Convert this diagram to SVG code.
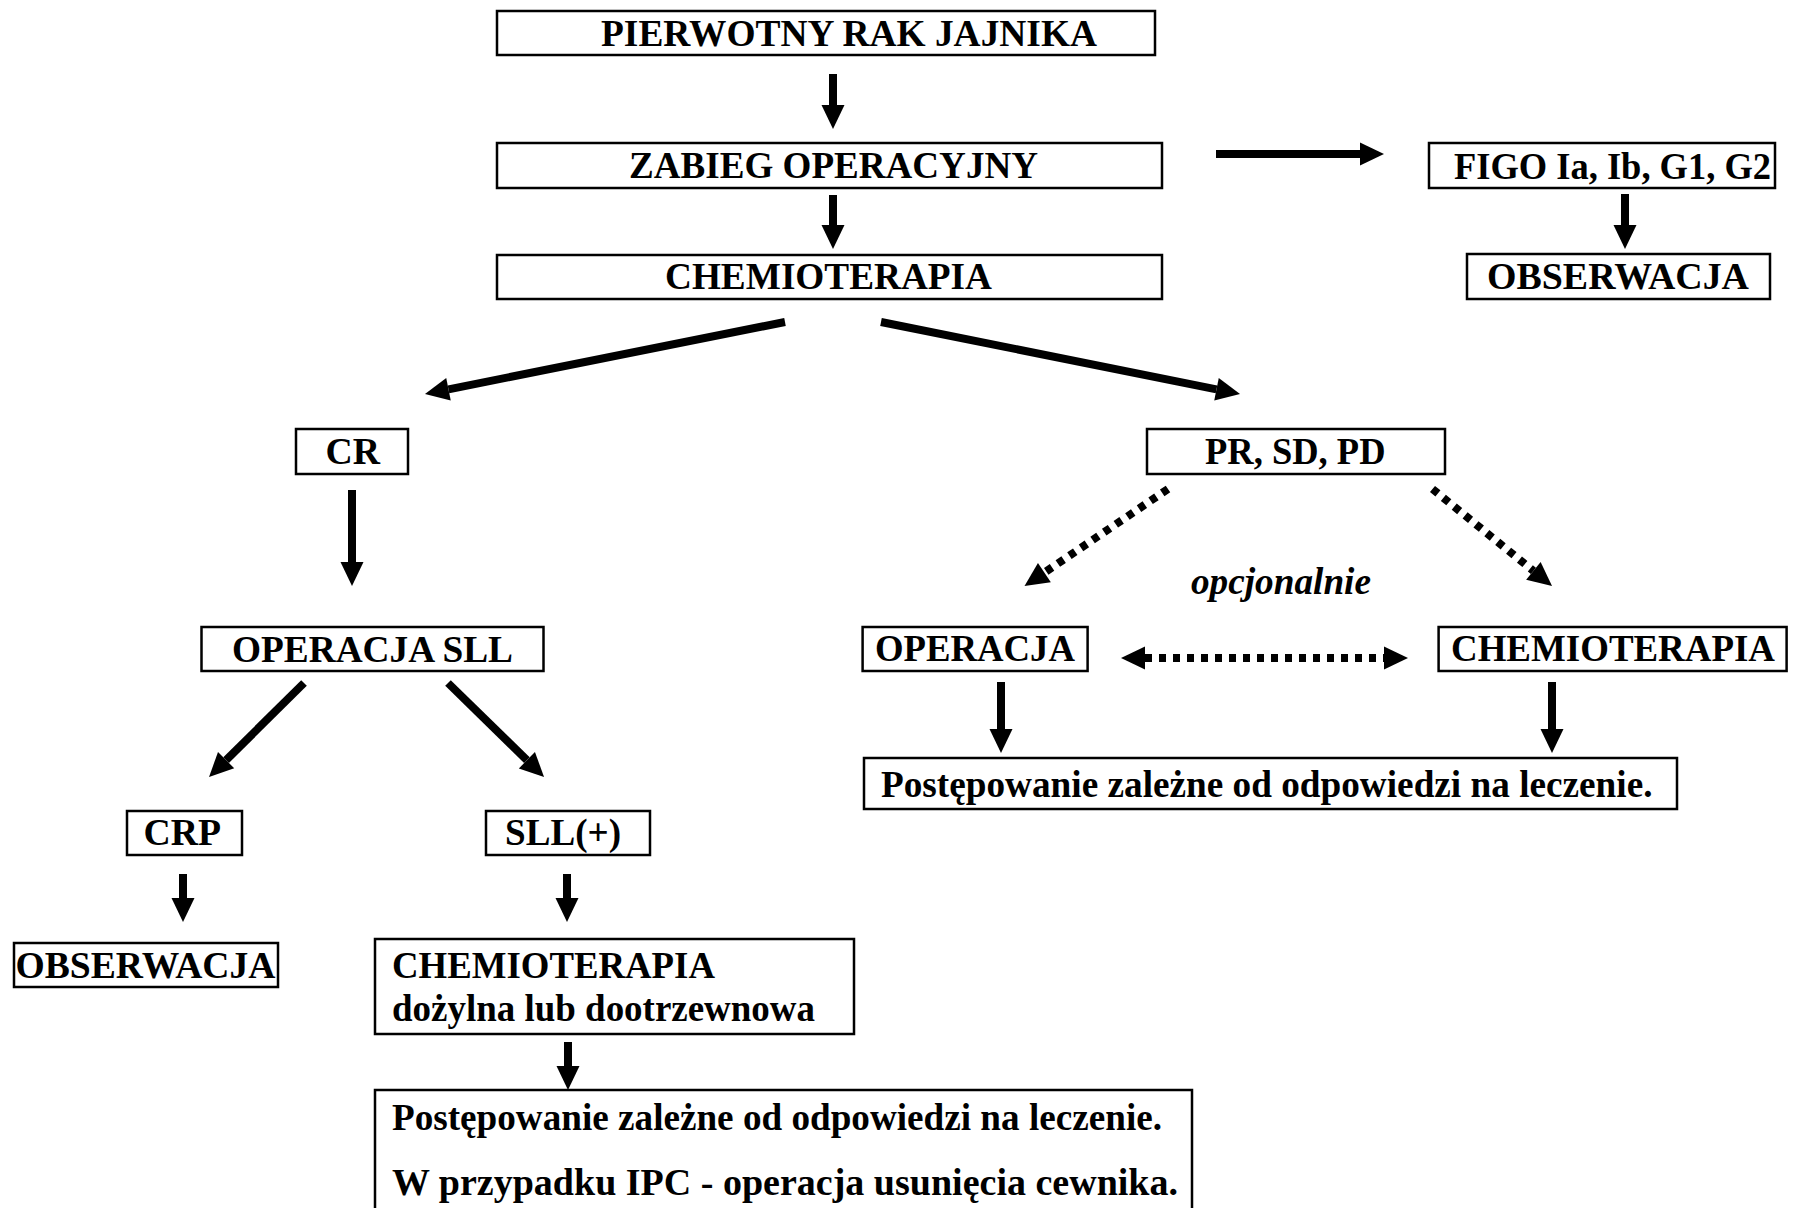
<svg xmlns="http://www.w3.org/2000/svg" width="1798" height="1208" viewBox="0 0 1798 1208">
<style>
  .box { fill: #fff; stroke: #000; stroke-width: 2.5; }
  .t { font-family: "Liberation Serif", "Times New Roman", serif; font-weight: bold; font-size: 37px; fill: #000; }
  .ti { font-family: "Liberation Serif", "Times New Roman", serif; font-weight: bold; font-style: italic; font-size: 37px; fill: #000; }
  .arr { stroke: #000; stroke-width: 8; fill: none; marker-end: url(#head); }
  .dot { stroke: #000; stroke-width: 8; fill: none; stroke-dasharray: 7 7; marker-end: url(#head); }
  .dot2 { stroke: #000; stroke-width: 8; fill: none; stroke-dasharray: 7 7; marker-end: url(#head); marker-start: url(#head); }
</style>
<defs>
  <marker id="head" markerUnits="userSpaceOnUse" markerWidth="24" markerHeight="24" refX="0" refY="11.5" orient="auto-start-reverse" overflow="visible">
    <path d="M0,0 L24,11.5 L0,23 Z" fill="#000"/>
  </marker>
</defs>

<g id="connectors">
  <line class="arr" x1="833" y1="74" x2="833" y2="105"/>
  <line class="arr" x1="833" y1="195" x2="833" y2="225"/>
  <line class="arr" x1="1216" y1="154" x2="1360" y2="154"/>
  <line class="arr" x1="1625" y1="194" x2="1625" y2="225"/>
  <line class="arr" x1="785" y1="322" x2="448.5" y2="389.3"/>
  <line class="arr" x1="881" y1="322" x2="1216.5" y2="389.3"/>
  <line class="arr" x1="352" y1="490" x2="352" y2="562"/>
  <line class="arr" x1="304" y1="683" x2="226.1" y2="760.1"/>
  <line class="arr" x1="448" y1="683" x2="526.9" y2="760.2"/>
  <line class="arr" x1="183" y1="874" x2="183" y2="898"/>
  <line class="arr" x1="567" y1="874" x2="567" y2="898"/>
  <line class="arr" x1="568" y1="1042" x2="568" y2="1066"/>
  <line class="dot" x1="1168" y1="489" x2="1044.4" y2="572.6"/>
  <line class="dot" x1="1432.5" y1="489" x2="1533.4" y2="570.9"/>
  <line class="dot2" x1="1145" y1="658" x2="1384" y2="658"/>
  <line class="arr" x1="1001" y1="682" x2="1001" y2="729"/>
  <line class="arr" x1="1552" y1="682" x2="1552" y2="729"/>
</g>

<g id="n-pierwotny">
  <rect class="box" x="497" y="11" width="658" height="44"/>
  <text class="t" x="601" y="46" textLength="496" lengthAdjust="spacingAndGlyphs">PIERWOTNY RAK JAJNIKA</text>
</g>
<g id="n-zabieg">
  <rect class="box" x="497" y="143" width="665" height="45"/>
  <text class="t" x="629" y="178" textLength="409" lengthAdjust="spacingAndGlyphs">ZABIEG OPERACYJNY</text>
</g>
<g id="n-chemio1">
  <rect class="box" x="497" y="255" width="665" height="44"/>
  <text class="t" x="665" y="289" textLength="327" lengthAdjust="spacingAndGlyphs">CHEMIOTERAPIA</text>
</g>
<g id="n-figo">
  <rect class="box" x="1429" y="143" width="346" height="45"/>
  <text class="t" x="1454" y="179" textLength="317" lengthAdjust="spacingAndGlyphs">FIGO Ia, Ib, G1, G2</text>
</g>
<g id="n-obs1">
  <rect class="box" x="1467" y="254" width="303" height="45"/>
  <text class="t" x="1487" y="289" textLength="262" lengthAdjust="spacingAndGlyphs">OBSERWACJA</text>
</g>
<g id="n-cr">
  <rect class="box" x="296" y="429" width="112" height="45"/>
  <text class="t" x="325.5" y="464" textLength="54.5" lengthAdjust="spacingAndGlyphs">CR</text>
</g>
<g id="n-pr">
  <rect class="box" x="1147" y="429" width="298" height="45"/>
  <text class="t" x="1205" y="464" textLength="180.5" lengthAdjust="spacingAndGlyphs">PR, SD, PD</text>
</g>
<g id="n-sll">
  <rect class="box" x="201.5" y="627" width="342" height="44"/>
  <text class="t" x="232" y="662" textLength="281" lengthAdjust="spacingAndGlyphs">OPERACJA SLL</text>
</g>
<g id="n-crp">
  <rect class="box" x="127" y="811" width="115" height="44"/>
  <text class="t" x="143.5" y="845" textLength="77.5" lengthAdjust="spacingAndGlyphs">CRP</text>
</g>
<g id="n-sllplus">
  <rect class="box" x="486" y="811" width="164" height="44"/>
  <text class="t" x="505" y="845" textLength="116" lengthAdjust="spacingAndGlyphs">SLL(+)</text>
</g>
<g id="n-obs2">
  <rect class="box" x="14" y="943" width="264" height="44"/>
  <text class="t" x="15.5" y="978" textLength="260" lengthAdjust="spacingAndGlyphs">OBSERWACJA</text>
</g>
<g id="n-chemio2">
  <rect class="box" x="375" y="939" width="479" height="95"/>
  <text class="t" x="392" y="978" textLength="323" lengthAdjust="spacingAndGlyphs">CHEMIOTERAPIA</text>
  <text class="t" x="392" y="1021" textLength="423" lengthAdjust="spacingAndGlyphs">dożylna lub dootrzewnowa</text>
</g>
<g id="n-post2">
  <rect class="box" x="375" y="1090" width="817" height="140"/>
  <text class="t" x="392" y="1130" textLength="770" lengthAdjust="spacingAndGlyphs">Postępowanie zależne od odpowiedzi na leczenie.</text>
  <text class="t" x="392" y="1195" textLength="786" lengthAdjust="spacingAndGlyphs">W przypadku IPC - operacja usunięcia cewnika.</text>
</g>
<g id="n-opcj">
  <text class="ti" x="1191" y="594" textLength="180" lengthAdjust="spacingAndGlyphs">opcjonalnie</text>
</g>
<g id="n-operacja">
  <rect class="box" x="862.6" y="627" width="225" height="44"/>
  <text class="t" x="875" y="661" textLength="200" lengthAdjust="spacingAndGlyphs">OPERACJA</text>
</g>
<g id="n-chemio3">
  <rect class="box" x="1438.6" y="627" width="348" height="44"/>
  <text class="t" x="1451" y="661" textLength="324" lengthAdjust="spacingAndGlyphs">CHEMIOTERAPIA</text>
</g>
<g id="n-post1">
  <rect class="box" x="864" y="758" width="813" height="51"/>
  <text class="t" x="881" y="797" textLength="771.5" lengthAdjust="spacingAndGlyphs">Postępowanie zależne od odpowiedzi na leczenie.</text>
</g>
</svg>
